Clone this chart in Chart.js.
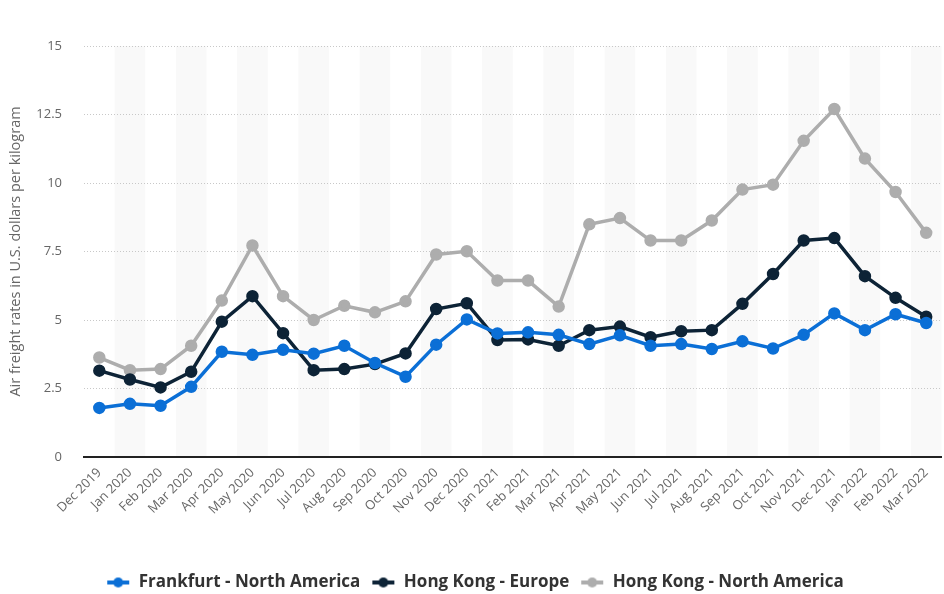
<!DOCTYPE html>
<html>
<head>
<meta charset="utf-8">
<script src="https://cdn.jsdelivr.net/npm/chart.js@4.4.1/dist/chart.umd.min.js"></script>
<style>
  html, body { margin: 0; padding: 0; background: #fff; overflow: hidden; }
  #wrap { width: 950px; height: 594px; position: relative; }
</style>
</head>
<body>
<div id="wrap"><canvas id="freightChart"></canvas></div>
<script>
// months shown on the x axis
const months = [
    'Dec 2019', 'Jan 2020', 'Feb 2020', 'Mar 2020', 'Apr 2020', 'May 2020', 'Jun 2020',
    'Jul 2020', 'Aug 2020', 'Sep 2020', 'Oct 2020', 'Nov 2020', 'Dec 2020', 'Jan 2021',
    'Feb 2021', 'Mar 2021', 'Apr 2021', 'May 2021', 'Jun 2021', 'Jul 2021', 'Aug 2021',
    'Sep 2021', 'Oct 2021', 'Nov 2021', 'Dec 2021', 'Jan 2022', 'Feb 2022', 'Mar 2022'
];

// USD per kg
const frankfurtNorthAmerica = [
    1.79, 1.94, 1.87, 2.56, 3.84, 3.73, 3.91, 3.77, 4.06, 3.43, 2.93, 4.10, 5.02, 4.51,
    4.55, 4.46, 4.12, 4.44, 4.06, 4.12, 3.94, 4.22, 3.96, 4.46, 5.24, 4.63, 5.21, 4.89
];
const hongKongEurope = [
    3.15, 2.83, 2.54, 3.11, 4.94, 5.87, 4.52, 3.17, 3.21, 3.39, 3.78, 5.40, 5.61, 4.27,
    4.29, 4.06, 4.63, 4.76, 4.37, 4.59, 4.63, 5.59, 6.68, 7.90, 7.99, 6.60, 5.81, 5.12
];
const hongKongNorthAmerica = [
    3.63, 3.17, 3.21, 4.06, 5.71, 7.72, 5.87, 5.00, 5.52, 5.28, 5.68, 7.39, 7.51, 6.44,
    6.44, 5.49, 8.49, 8.72, 7.90, 7.90, 8.63, 9.76, 9.94, 11.54, 12.70, 10.89, 9.67, 8.18
];

const seriesNames = ['Frankfurt - North America', 'Hong Kong - Europe', 'Hong Kong - North America'];
const seriesColors = ['#0b6fd6', '#0d2336', '#adadad'];

// little "line + dot" marker for the legend
function legendMarker(color) {
    const c = document.createElement('canvas');
    c.width = 24;
    c.height = 12;
    const g = c.getContext('2d');
    g.strokeStyle = color;
    g.lineWidth = 4;
    g.beginPath();
    g.moveTo(1, 6);
    g.lineTo(23, 6);
    g.stroke();
    g.fillStyle = color;
    g.beginPath();
    g.arc(12, 6, 5, 0, Math.PI * 2);
    g.fill();
    return c;
}

// alternating grey column bands, drawn under the grid
const bandPlugin = {
    id: 'bands',
    beforeDatasetsDraw(chart) {
        const area = chart.chartArea;
        const x = chart.scales.x;
        const w = x.width / months.length;
        const g = chart.ctx;
        g.save();
        g.globalCompositeOperation = 'destination-over';
        g.fillStyle = '#f9f9f9';
        months.forEach((m, i) => {
            if (i % 2 === 1) {
                const cx = x.getPixelForValue(i);
                g.fillRect(cx - w / 2, area.top, w, area.bottom - area.top);
            }
        });
        g.restore();
    },
    afterDraw(chart) {
        // solid base line at zero
        const area = chart.chartArea;
        const g = chart.ctx;
        const y0 = Math.round(chart.scales.y.getPixelForValue(0));
        g.save();
        g.globalCompositeOperation = 'source-over';
        g.fillStyle = '#222222';
        g.fillRect(area.left, y0 - 1, area.right - area.left, 2);
        g.restore();
    }
};

const isZero = (c) => c.tick && c.tick.value === 0;

function makeSet(i, values) {
    return {
        label: seriesNames[i],
        data: values,
        borderColor: seriesColors[i],
        backgroundColor: seriesColors[i],
        pointBackgroundColor: seriesColors[i],
        pointBorderColor: seriesColors[i],
        borderWidth: 3.5,
        pointRadius: 4.5,
        pointHoverRadius: 5,
        tension: 0,
        fill: false
    };
}

const ctx = document.getElementById('freightChart').getContext('2d');
const freightChart = new Chart(ctx, {
    type: 'line',
    data: {
        labels: months,
        datasets: [
            makeSet(0, frankfurtNorthAmerica),
            makeSet(1, hongKongEurope),
            makeSet(2, hongKongNorthAmerica)
        ]
    },
    plugins: [bandPlugin],
    options: {
        responsive: true,
        maintainAspectRatio: false,
        animation: false,
        layout: {
            padding: { top: 46, right: 0, bottom: -7, left: 0 }
        },
        scales: {
            x: {
                offset: true,
                grid: { display: false, drawTicks: false },
                border: { display: true, color: '#222', width: 2 },
                ticks: {
                    autoSkip: false,
                    maxRotation: 45,
                    minRotation: 45,
                    padding: 8,
                    color: '#666',
                    font: { family: 'Open Sans', size: 13 }
                },
                afterFit(scale) {
                    scale.height = 106;
                    scale.paddingRight = 0;
                }
            },
            y: {
                min: 0,
                max: 15,
                ticks: {
                    stepSize: 2.5,
                    padding: 22,
                    color: '#666',
                    font: { family: 'Open Sans', size: 13 }
                },
                grid: {
                    color: (c) => isZero(c) ? '#222' : '#c8c8c8',
                    lineWidth: (c) => isZero(c) ? 2 : 1,
                    drawTicks: false
                },
                border: {
                    display: false,
                    dash: (c) => isZero(c) ? [] : [1, 2]
                },
                title: {
                    display: true,
                    text: 'Air freight rates in U.S. dollars per kilogram',
                    color: '#666',
                    padding: { top: 7, bottom: 2 },
                    font: { family: 'Open Sans', size: 14.5 }
                },
                afterFit(scale) {
                    scale.width = 84;
                    scale.paddingTop = 0;
                }
            }
        },
        plugins: {
            legend: {
                position: 'bottom',
                labels: {
                    usePointStyle: true,
                    pointStyleWidth: 24,
                    padding: 11,
                    color: '#333',
                    font: { family: 'Open Sans', size: 17, weight: 'bold' },
                    generateLabels(chart) {
                        return chart.data.datasets.map((ds, i) => ({
                            text: ds.label,
                            fillStyle: ds.borderColor,
                            strokeStyle: ds.borderColor,
                            pointStyle: legendMarker(ds.borderColor),
                            fontColor: '#333',
                            hidden: !chart.isDatasetVisible(i),
                            datasetIndex: i
                        }));
                    }
                }
            },
            tooltip: { enabled: true }
        }
    }
});
</script>
</body>
</html>
